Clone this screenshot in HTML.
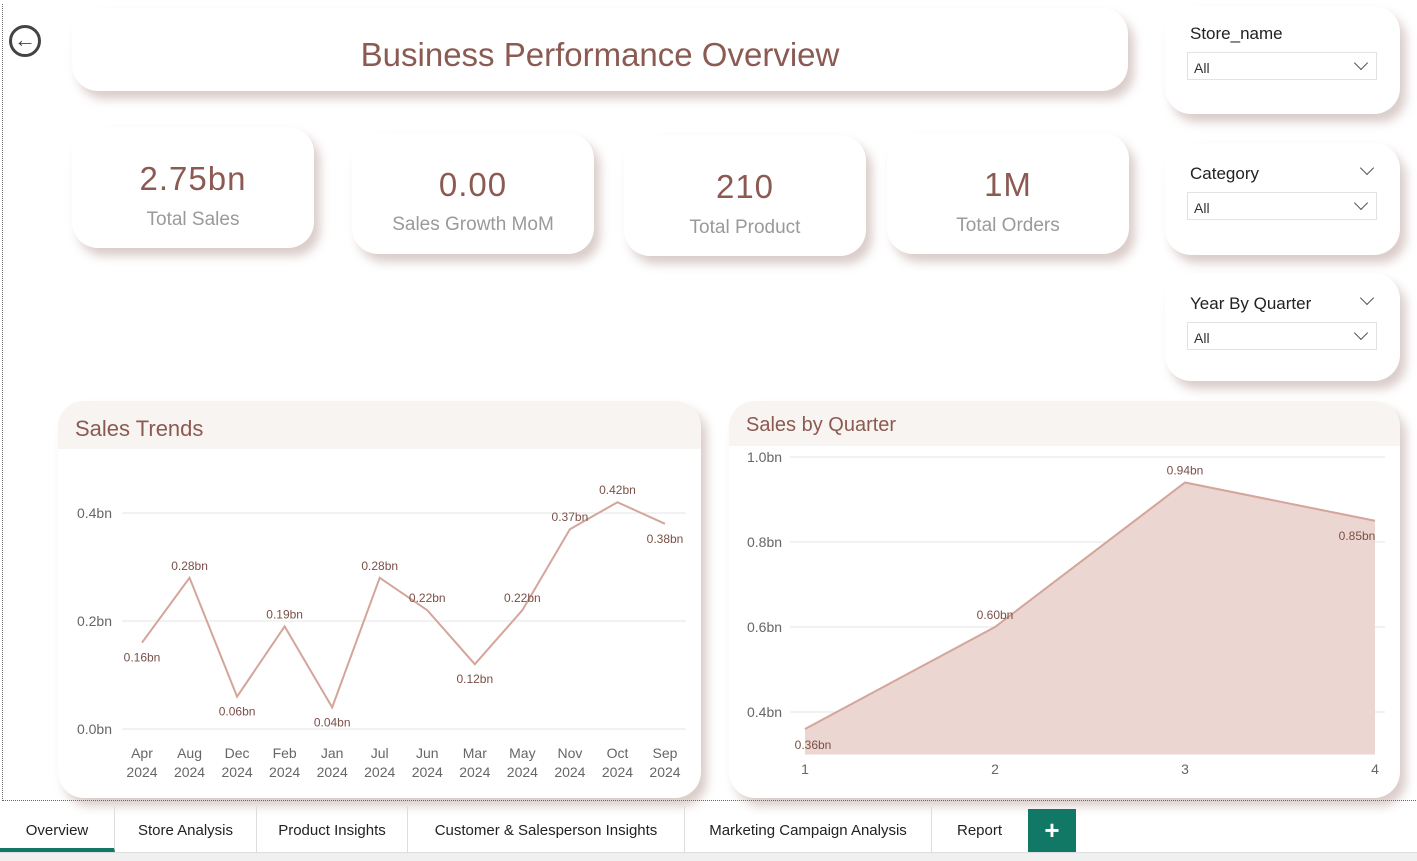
<!DOCTYPE html>
<html><head><meta charset="utf-8"><style>
body{margin:0;width:1417px;height:860px;background:#fff;font-family:"Liberation Sans",sans-serif;position:relative;overflow:hidden}
.card{position:absolute;background:#fff;border-radius:26px;box-shadow:6px 8px 10px rgba(150,110,100,.35)}
.kv{position:absolute;width:100%;text-align:center;color:#8b5a52;font-size:33px;letter-spacing:1px}
.kl{position:absolute;width:100%;text-align:center;color:#9a9a9a;font-size:19px}
.sl{position:absolute;left:25px;font-size:17px;color:#222}
.dd{position:absolute;left:22px;width:190px;height:28px;border:1px solid #e2e2e2;font-size:14px;color:#333;line-height:30px;padding-left:6px;box-sizing:border-box}
.chev{position:absolute;width:9px;height:9px;border-right:1.5px solid #555;border-bottom:1.5px solid #555;transform:rotate(45deg)}
.tab{position:absolute;top:806px;height:46px;line-height:50px;font-size:15px;color:#222;text-align:center;border-right:1px solid #ddd}
</style></head><body>
<div style="position:absolute;left:2px;top:4px;width:1413px;height:796px;border-left:1px dotted #666;border-bottom:1px dotted #666"></div>
<div style="position:absolute;left:9px;top:25px;width:32px;height:32px;border:3px solid #444;border-radius:50%;box-sizing:border-box;text-align:center;line-height:24px;font-size:22px;color:#444;font-weight:bold">&#8592;</div>
<div class="card" style="left:72px;top:8px;width:1056px;height:83px"><div style="position:absolute;width:100%;top:28px;text-align:center;font-size:33px;color:#8b5a52">Business Performance Overview</div></div>
<div class="card" style="left:72px;top:127px;width:242px;height:121px"><div class="kv" style="top:33px">2.75bn</div><div class="kl" style="top:82px">Total Sales</div></div>
<div class="card" style="left:352px;top:133px;width:242px;height:121px"><div class="kv" style="top:33px">0.00</div><div class="kl" style="top:81px">Sales Growth MoM</div></div>
<div class="card" style="left:624px;top:135px;width:242px;height:121px"><div class="kv" style="top:33px">210</div><div class="kl" style="top:82px">Total Product</div></div>
<div class="card" style="left:887px;top:133px;width:242px;height:121px"><div class="kv" style="top:33px">1M</div><div class="kl" style="top:82px">Total Orders</div></div>

<div class="card" style="left:1165px;top:6px;width:235px;height:108px"><div class="sl" style="top:18px">Store_name</div><div class="dd" style="top:46px">All<div class="chev" style="right:10px;top:5px"></div></div></div>
<div class="card" style="left:1165px;top:143px;width:235px;height:112px"><div class="sl" style="top:21px">Category</div><div class="chev" style="right:28px;top:20px"></div><div class="dd" style="top:49px">All<div class="chev" style="right:10px;top:5px"></div></div></div>
<div class="card" style="left:1165px;top:273px;width:235px;height:108px"><div class="sl" style="top:21px">Year By Quarter</div><div class="chev" style="right:28px;top:20px"></div><div class="dd" style="top:49px">All<div class="chev" style="right:10px;top:5px"></div></div></div>

<div class="card" style="left:58px;top:401px;width:643px;height:397px;overflow:hidden"><div style="height:48px;background:#f8f4f1"></div><div style="position:absolute;left:17px;top:15px;font-size:22px;color:#8b5a52">Sales Trends</div></div>
<div class="card" style="left:729px;top:401px;width:671px;height:397px;overflow:hidden"><div style="height:45px;background:#f8f4f1"></div><div style="position:absolute;left:17px;top:13px;font-size:20px;color:#8b5a52">Sales by Quarter</div></div>

<svg id="ch" width="1417" height="860" style="position:absolute;left:0;top:0" font-family="Liberation Sans, sans-serif"></svg>

<div class="tab" style="left:0;width:114px;border-bottom:4px solid #117865;height:42px">Overview</div>
<div class="tab" style="left:115px;width:141px">Store Analysis</div>
<div class="tab" style="left:257px;width:150px">Product Insights</div>
<div class="tab" style="left:408px;width:276px">Customer &amp; Salesperson Insights</div>
<div class="tab" style="left:685px;width:246px">Marketing Campaign Analysis</div>
<div class="tab" style="left:932px;width:95px;border:none">Report</div>
<div style="position:absolute;left:1028px;top:809px;width:48px;height:44px;background:#117865;color:#fff;font-size:26px;font-weight:bold;text-align:center;line-height:42px">+</div>
<div style="position:absolute;left:0;top:852px;width:1417px;height:8px;background:#f0f0f0;border-top:1px solid #ddd"></div>

<script>
const trendCats=["Apr 2024","Aug 2024","Dec 2024","Feb 2024","Jan 2024","Jul 2024","Jun 2024","Mar 2024","May 2024","Nov 2024","Oct 2024","Sep 2024"];
const trendVals=[0.16,0.28,0.06,0.19,0.04,0.28,0.22,0.12,0.22,0.37,0.42,0.38];
const trendTicks=[0,0.2,0.4];
const qCats=["1","2","3","4"];
const qVals=[0.36,0.60,0.94,0.85];
const qTicks=[0.4,0.6,0.8,1.0];

const svg=document.getElementById('ch');const NS='http://www.w3.org/2000/svg';
function mk(t,a,txt){const e=document.createElementNS(NS,t);for(const k in a)e.setAttribute(k,a[k]);if(txt!==undefined)e.textContent=txt;svg.appendChild(e);return e;}
const tx=i=>142+i*(665-142)/(trendCats.length-1);
const ty=v=>729-v*540;
trendTicks.forEach(t=>{const g=mk('line',{x1:122,x2:686,y1:ty(t),y2:ty(t),stroke:'#e6e6e6'});

const l=mk('text',{x:112,y:ty(t)+5,'text-anchor':'end','font-size':14,fill:'#666'},t.toFixed(1)+'bn');
});
const tl=mk('polyline',{points:trendVals.map((v,i)=>tx(i)+','+ty(v)).join(' '),fill:'none',stroke:'#d4a59a','stroke-width':2});

trendVals.forEach((v,i)=>{const prev=trendVals[i-1],next=trendVals[i+1];
const low=(prev===undefined||prev>v)&&(next===undefined||next>v)||i==0||i==11;
const y=low?ty(v)+19:ty(v)-8;
const l=mk('text',{x:tx(i),y:y,'text-anchor':'middle','font-size':12,fill:'#7a5048'},v.toFixed(2)+'bn');

const p=trendCats[i].split(' ');
const c=mk('text',{x:tx(i),y:758,'text-anchor':'middle','font-size':14,fill:'#666'},p[0]);

const c2=mk('text',{x:tx(i),y:777,'text-anchor':'middle','font-size':14,fill:'#666'},p[1]);
});
const qx=i=>805+i*190;
const qy=v=>457+(1.0-v)*425;
qTicks.forEach(t=>{const g=mk('line',{x1:790,x2:1385,y1:qy(t),y2:qy(t),stroke:'#e6e6e6'});

const l=mk('text',{x:747,y:qy(t)+5,'font-size':14,fill:'#666'},t.toFixed(1)+'bn');
});
const base=qy(0.3);
const ar=mk('polygon',{points:qx(0)+','+base+' '+qVals.map((v,i)=>qx(i)+','+qy(v)).join(' ')+' '+qx(qVals.length-1)+','+base,fill:'#ecd6d1'});

const ql=mk('polyline',{points:qVals.map((v,i)=>qx(i)+','+qy(v)).join(' '),fill:'none',stroke:'#d4a59a','stroke-width':2});

qVals.forEach((v,i)=>{const dx=i==3?-18:(i==0?8:0);const dy=i==0?20:(i==3?19:-8);
const l=mk('text',{x:qx(i)+dx,y:qy(v)+dy,'text-anchor':'middle','font-size':12,fill:'#7a5048'},v.toFixed(2)+'bn');

const c=mk('text',{x:qx(i),y:774,'text-anchor':'middle','font-size':14,fill:'#666'},qCats[i]);
});
</script>
</body></html>
